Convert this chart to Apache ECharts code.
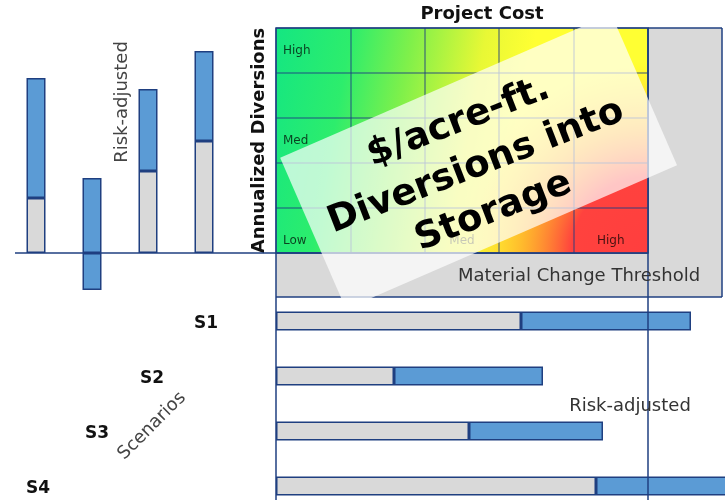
<!DOCTYPE html>
<html><head><meta charset="utf-8">
<script src="https://cdn.jsdelivr.net/npm/echarts@6/dist/echarts.min.js"></script>
<style>html,body{margin:0;padding:0;background:#fff}#c{width:725px;height:500px}</style>
</head><body><div id="c"></div>
<script>
// ---- data ----
const scenarios = ['S1', 'S2', 'S3', 'S4'];
// Annualized diversions (vertical bars, arbitrary units)
const divDeterministic = [55, 0, 82, 112];
const divRiskLow = [55, -37, 82, 112];
const divRiskHigh = [175, 75, 164, 202];
// Project cost (horizontal bars, arbitrary units)
const costDeterministic = [245, 118, 193, 320];
const costRiskAdjusted = [415, 267, 327, 470];
// heat-map level labels
const costLevels = ['Low', '', 'Med', '', 'High'];
const divLevels = ['Low', '', 'Med', '', 'High'];

const NAVY = '#1f3f80';
const BLUE = '#5b9bd5';
const GRAY = '#d9d9d9';
const FONT = 'DejaVu Sans';

const chart = echarts.init(document.getElementById('c'));

const grayDiv = divDeterministic.map(v => v > 0 ? v : null);
const blueDivUp = divRiskHigh.map((h, i) => h - Math.max(divRiskLow[i], 0));
const blueDivDown = divRiskLow.map(v => v < 0 ? v : null);
const blueCost = costRiskAdjusted.map((v, i) => v - costDeterministic[i]);

const barStyle = c => ({ color: c, borderColor: NAVY, borderWidth: 1.5 });
const pads = [58, 112, 167, 226];
const rich = {};
pads.forEach((p, i) => {
  rich['s' + i] = { padding: [5, p, 0, 0], fontFamily: FONT, fontWeight: 'bold', fontSize: 17, color: '#111' };
});
const centered = { align: 'center', verticalAlign: 'middle', textAlign: 'center', textVerticalAlign: 'middle' };

const option = {
  animation: false,
  grid: [
    { left: 8, top: 43, width: 224, height: 250 },
    { left: 276, top: 321, right: 0, height: 165 },
    { left: 276, top: 28, width: 372, height: 225, show: true, borderColor: NAVY, borderWidth: 1.5,
      backgroundColor: { type: 'linear', x: 0, y: 0, x2: 1, y2: 0.3, colorStops: [
        { offset: 0, color: '#14e682' }, { offset: 0.2, color: '#2ded6c' },
        { offset: 0.36, color: '#80f04a' }, { offset: 0.55, color: '#e8f835' },
        { offset: 0.68, color: '#ffff33' }, { offset: 1, color: '#ffff33' }] } },
    { left: 276, top: 28, width: 372, height: 225, show: true, borderWidth: 0,
      backgroundColor: { type: 'radial', x: 1, y: 1, r: 0.85, colorStops: [
        { offset: 0, color: 'rgba(255,62,62,1)' }, { offset: 0.4, color: 'rgba(255,66,62,1)' },
        { offset: 0.66, color: 'rgba(255,140,40,0.6)' }, { offset: 1, color: 'rgba(255,210,40,0)' }] } }
  ],
  xAxis: [
    { gridIndex: 0, type: 'category', data: scenarios, show: false },
    { gridIndex: 1, type: 'value', min: 0, max: 449, show: false },
    { gridIndex: 2, type: 'category', data: costLevels, position: 'bottom',
      axisLine: { show: false }, axisTick: { show: false },
      splitLine: { show: true, lineStyle: { color: 'rgba(30,60,130,0.6)', width: 1.5 } },
      axisLabel: { inside: true, margin: 6, fontFamily: FONT, fontSize: 12, color: 'rgba(0,0,0,0.72)',
        formatter: (v, i) => i === 0 ? '' : v } },
    { gridIndex: 2, type: 'category', data: costLevels, position: 'top',
      axisLine: { show: false }, axisTick: { show: false }, axisLabel: { show: false },
      name: 'Project Cost', nameLocation: 'middle', nameGap: 5,
      nameTextStyle: { fontFamily: FONT, fontWeight: 'bold', fontSize: 18, color: '#111', padding: [0, 0, 0, 40] } },
    { gridIndex: 3, type: 'value', min: 0, max: 1, show: false }
  ],
  yAxis: [
    { gridIndex: 0, type: 'value', min: -40, max: 210, show: false },
    { gridIndex: 1, type: 'category', data: scenarios, inverse: true, boundaryGap: false,
      axisLine: { show: false }, axisTick: { show: false },
      axisLabel: { margin: 0, formatter: (v, i) => '{s' + i + '|' + v + '}', rich: rich } },
    { gridIndex: 2, type: 'category', data: divLevels,
      axisLine: { show: false }, axisTick: { show: false },
      splitLine: { show: true, lineStyle: { color: 'rgba(30,60,130,0.6)', width: 1.5 } },
      axisLabel: { inside: true, margin: 7, fontFamily: FONT, fontSize: 12, color: 'rgba(0,0,0,0.72)',
        formatter: (v, i) => i === 0 ? '{low|' + v + '}' : v,
        rich: { low: { padding: [20, 0, 0, 0], fontFamily: FONT, fontSize: 12, color: 'rgba(0,0,0,0.72)' } } },
      name: 'Annualized Diversions', nameLocation: 'middle', nameRotate: 90, nameGap: 2,
      nameTextStyle: { fontFamily: FONT, fontWeight: 'bold', fontSize: 18, color: '#111' } },
    { gridIndex: 3, type: 'value', min: 0, max: 1, show: false }
  ],
  series: [
    { type: 'bar', name: 'Deterministic', xAxisIndex: 0, yAxisIndex: 0, stack: 'd', barWidth: 19,
      data: grayDiv, itemStyle: barStyle(GRAY) },
    { type: 'bar', name: 'Risk-adjusted', xAxisIndex: 0, yAxisIndex: 0, stack: 'd', barWidth: 19,
      data: blueDivUp, itemStyle: barStyle(BLUE) },
    { type: 'bar', name: 'Risk-adjusted (neg)', xAxisIndex: 0, yAxisIndex: 0, stack: 'd', barWidth: 19,
      data: blueDivDown, itemStyle: barStyle(BLUE) },
    { type: 'bar', name: 'Deterministic cost', xAxisIndex: 1, yAxisIndex: 1, stack: 'c', barWidth: 19, clip: false,
      data: costDeterministic, itemStyle: barStyle(GRAY) },
    { type: 'bar', name: 'Risk-adjusted cost', xAxisIndex: 1, yAxisIndex: 1, stack: 'c', barWidth: 19, clip: false,
      data: blueCost, itemStyle: barStyle(BLUE) }
  ],
  graphic: [
    { type: 'rect', z: -10, shape: { x: 648, y: 28, width: 74, height: 269 }, style: { fill: GRAY } },
    { type: 'rect', z: -10, shape: { x: 276, y: 253, width: 446, height: 44 }, style: { fill: GRAY } },
    { type: 'line', z: 5, shape: { x1: 15, y1: 253, x2: 648, y2: 253 }, style: { stroke: NAVY, lineWidth: 1.5 } },
    { type: 'line', z: 5, shape: { x1: 276, y1: 253, x2: 276, y2: 500 }, style: { stroke: NAVY, lineWidth: 1.5 } },
    { type: 'line', z: 5, shape: { x1: 648, y1: 28, x2: 648, y2: 500 }, style: { stroke: NAVY, lineWidth: 1.5 } },
    { type: 'line', z: 5, shape: { x1: 276, y1: 297, x2: 722, y2: 297 }, style: { stroke: NAVY, lineWidth: 1.5 } },
    { type: 'line', z: 5, shape: { x1: 722, y1: 28, x2: 722, y2: 297 }, style: { stroke: NAVY, lineWidth: 1.5 } },
    { type: 'line', z: 5, shape: { x1: 648, y1: 28, x2: 722, y2: 28 }, style: { stroke: NAVY, lineWidth: 1.5 } },
    { type: 'text', z: 5, x: 122, y: 102, rotation: Math.PI / 2,
      style: Object.assign({ text: 'Risk-adjusted', fontFamily: FONT, fontSize: 18, fill: '#444' }, centered) },
    { type: 'text', z: 5, x: 152, y: 426, rotation: Math.PI / 4,
      style: Object.assign({ text: 'Scenarios', fontFamily: FONT, fontSize: 18, fill: '#444' }, centered) },
    { type: 'text', z: 5, x: 630, y: 406,
      style: Object.assign({ text: 'Risk-adjusted', fontFamily: FONT, fontSize: 18, fill: '#333' }, centered) },
    { type: 'text', z: 5, x: 579, y: 276,
      style: Object.assign({ text: 'Material Change Threshold', fontFamily: FONT, fontSize: 18, fill: '#333' }, centered) },
    { type: 'rect', z: 100, x: 478.6, y: 161.5, rotation: 0.41,
      shape: { x: -180.5, y: -82.5, width: 361, height: 165 }, style: { fill: 'rgba(255,255,255,0.7)' } },
    { type: 'text', z: 101, x: 476, y: 167, rotation: 0.37,
      style: Object.assign({ text: '$/acre-ft.\nDiversions into\nStorage', fontFamily: FONT, fontWeight: 'bold', fontSize: 37,
        lineHeight: 48, fill: '#000' }, centered) }
  ]
};
chart.setOption(option);
</script>
</body></html>
